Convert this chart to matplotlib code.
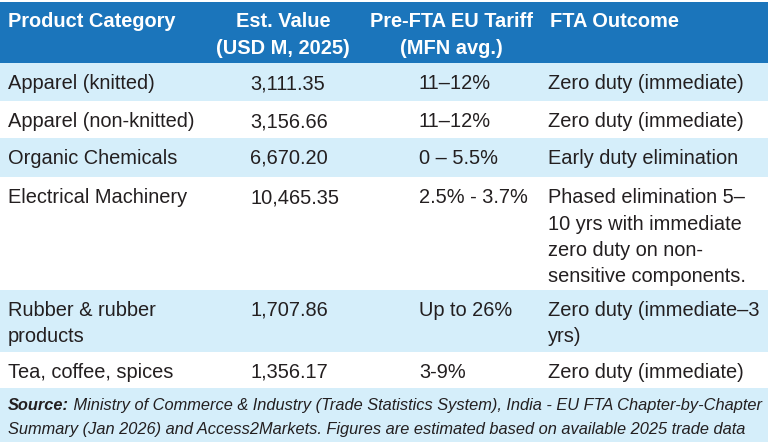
import matplotlib
matplotlib.use("Agg")
import matplotlib.pyplot as plt
from matplotlib import font_manager
from matplotlib.patches import Rectangle

headers = [["Product Category"], ["Est. Value", "(USD M, 2025)"],
           ["Pre-FTA EU Tariff", "(MFN avg.)"], ["FTA Outcome"]]
categories = [["Apparel (knitted)"], ["Apparel (non-knitted)"], ["Organic Chemicals"],
              ["Electrical Machinery"], ["Rubber & rubber", "products"], ["Tea, coffee, spices"]]
values = [3111.35, 3156.66, 6670.20, 10465.35, 1707.86, 1356.17]
tariffs = ["11–12%", "11–12%", "0 – 5.5%", "2.5% - 3.7%", "Up to 26%", "3-9%"]
outcomes = [["Zero duty (immediate)"], ["Zero duty (immediate)"], ["Early duty elimination"],
            ["Phased elimination 5–", "10 yrs with immediate", "zero duty on non-",
             "sensitive components."],
            ["Zero duty (immediate–3", "yrs)"], ["Zero duty (immediate)"]]
source_bold = "Source:"
source_lines = [" Ministry of Commerce & Industry (Trade Statistics System), India - EU FTA Chapter-by-Chapter",
                "Summary (Jan 2026) and Access2Markets. Figures are estimated based on available 2025 trade data"]

BLUE = "#1b75bb"
LIGHT = "#d5eefa"
INK = "#231f20"
W, H = 770, 442
row_edges = [63, 101, 138, 177, 290, 352, 387]
line_gap = 26.5
fs = 14.4

body = ["Liberation Sans", "DejaVu Sans"]
try:
    font_manager.findfont("Liberation Sans Narrow", fallback_to_default=False)
    narrow = ["Liberation Sans Narrow", "Liberation Sans", "DejaVu Sans"]
except Exception:
    narrow = body

fig = plt.figure(figsize=(W / 100, H / 100), dpi=100)
ax = fig.add_axes([0, 0, 1, 1])
ax.set_xlim(0, W)
ax.set_ylim(H, 0)
ax.axis("off")

# header band
ax.add_patch(Rectangle((0, 2), W - 2, row_edges[0] - 2, color=BLUE, lw=0))
hx = [(8, "left"), (283, "center"), (451, "center"), (550, "left")]
for (x, ha), lines in zip(hx, headers):
    for i, t in enumerate(lines):
        ax.text(x, 27 + i * 27.5, t, ha=ha, va="baseline", fontsize=fs,
                fontweight="bold", color="white", family=body)

# body rows
for r in range(len(categories)):
    top, bot = row_edges[r], row_edges[r + 1]
    if r % 2 == 0:
        ax.add_patch(Rectangle((0, top), W - 2, bot - top, color=LIGHT, lw=0))
    base = top + 26
    cells = [(8, categories[r]), (250, [f"{values[r]:,.2f}"]),
             (419, [tariffs[r]]), (548, outcomes[r])]
    for x, lines in cells:
        for i, t in enumerate(lines):
            ax.text(x, base + i * line_gap, t, ha="left", va="baseline",
                    fontsize=fs, color=INK, family=body)

# footer
ax.add_patch(Rectangle((0, row_edges[-1] + 1), W - 2, H - row_edges[-1] - 1, color=LIGHT, lw=0))
fig.canvas.draw()
rend = fig.canvas.get_renderer()

probe = ax.text(0, 0, source_bold + source_lines[0], fontsize=12, style="italic",
                family=narrow)
wpx = probe.get_window_extent(rend).width
probe.remove()
ffs = 12 * 749 / wpx

sb = ax.text(8, 410, source_bold, ha="left", va="baseline", fontsize=ffs,
             style="italic", fontweight="bold", color=INK, family=narrow)
bw = sb.get_window_extent(rend).width
ax.text(8 + bw, 410, source_lines[0], ha="left", va="baseline", fontsize=ffs,
        style="italic", color=INK, family=narrow)
ax.text(8, 434, source_lines[1], ha="left", va="baseline", fontsize=ffs,
        style="italic", color=INK, family=narrow)

fig.savefig("out.png", dpi=100, facecolor="white")
